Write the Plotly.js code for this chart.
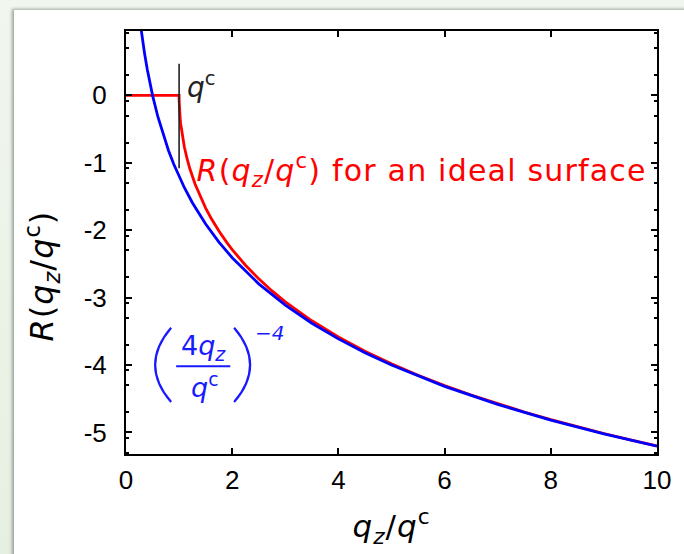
<!DOCTYPE html>
<html>
<head>
<meta charset="utf-8">
<script src="https://cdn.plot.ly/plotly-3.0.1.min.js"></script>
<style>
  html, body { margin: 0; padding: 0; width: 684px; height: 554px; overflow: hidden;
    background: linear-gradient(180deg, #f1f6ef 0%, #e6f0e2 100%); }
  #panel { position: absolute; left: 14px; top: 10px; right: -6px; bottom: -6px;
    background: #ffffff; box-shadow: -2px -1px 3px rgba(60,70,60,0.45); }
  #chart { position: absolute; left: 0; top: 0; width: 684px; height: 554px; }
  /* wider tracking for the curve label and the axis titles */
  #chart g.annotation[data-index="1"] text { letter-spacing: 1.2px; }
  #chart g.annotation[data-index="5"] text,
  #chart g.annotation[data-index="6"] text { letter-spacing: 1px; }
</style>
</head>
<body>
<div id="panel"></div>
<div id="chart"></div>
<script>
// Reflectivity of an ideal surface vs. normalised momentum transfer q_z/q^c (log10 scale)
const idealQ = [0, 1, 1, 1.001, 1.002, 1.005, 1.01, 1.02, 1.03, 1.05, 1.07, 1.1, 1.15, 1.2, 1.3, 1.4, 1.5,
  1.6, 1.75, 1.9, 2, 2.25, 2.5, 2.75, 3, 3.5, 4, 4.5, 5, 5.5, 6, 6.5, 7, 7.5, 8, 8.5, 9, 9.5, 10];
const idealLogR = [0, 0, 0, -0.0777, -0.1099, -0.1736, -0.2455, -0.3469, -0.4245, -0.5471, -0.6463, -0.7706,
  -0.9400, -1.0812, -1.3141, -1.5062, -1.6720, -1.8188, -2.0131, -2.1840, -2.2878, -2.5199, -2.7218,
  -2.9009, -3.0622, -3.3438, -3.5846, -3.7951, -3.9824, -4.1510, -4.3045, -4.4454, -4.5756, -4.6966,
  -4.8097, -4.9158, -5.0157, -5.1102, -5.1998];

// Asymptotic power law (4 q_z / q^c)^-4
const powerQ = [0.28, 0.3, 0.35, 0.4, 0.45, 0.5, 0.6, 0.7, 0.8, 0.9, 1.0, 1.1, 1.25, 1.5, 1.75, 2, 2.5, 3,
  3.5, 4, 4.5, 5, 6, 7, 8, 9, 10];
const powerLogR = [1.0073, 0.8874, 0.6196, 0.3876, 0.1830, 0, -0.3167, -0.5845, -0.8165, -1.0211, -1.2041,
  -1.3697, -1.5918, -1.9085, -2.1763, -2.4082, -2.7959, -3.1126, -3.3804, -3.6124, -3.8170, -4.0000,
  -4.3167, -4.5845, -4.8165, -5.0211, -5.2041];

// Marker for the critical wave vector q^c
const criticalQ = [1, 1];
const criticalMark = [0.47, -1.08];

const xTicks = [0, 2, 4, 6, 8, 10];
const xTickText = ['0', '2', '4', '6', '8', '10'];
const yTicks = [0, -1, -2, -3, -4, -5];
const yTickText = ['0', '-1', '-2', '-3', '-4', '-5'];
const yMinorTicks = [0.92, 0.7, 0.3, -0.08, -0.3, -0.7, -1.08, -1.3, -1.7, -2.08, -2.3, -2.7,
  -3.08, -3.3, -3.7, -4.08, -4.3, -4.7, -5.08, -5.3];

const mathFont = 'DejaVu Sans';
const traces = [
  { x: idealQ, y: idealLogR, mode: 'lines', line: { color: '#ff0000', width: 2.8 }, hoverinfo: 'skip' },
  { x: powerQ, y: powerLogR, mode: 'lines', line: { color: '#0000ff', width: 2.8 }, hoverinfo: 'skip' },
  { x: criticalQ, y: criticalMark, mode: 'lines', line: { color: '#222222', width: 1.6 }, hoverinfo: 'skip' }
];

const layout = {
  width: 684, height: 554,
  margin: { l: 126, r: 27, t: 31, b: 100 },
  paper_bgcolor: 'rgba(0,0,0,0)',
  plot_bgcolor: '#ffffff',
  showlegend: false,
  font: { family: 'Liberation Sans, Arial, sans-serif', color: '#000000' },
  xaxis: {
    range: [0, 10], tickmode: 'array', tickvals: xTicks, ticktext: xTickText,
    ticks: 'inside', ticklen: 6, tickwidth: 2, tickcolor: '#000000',
    showline: true, linewidth: 2, linecolor: '#000000', mirror: 'ticks',
    showgrid: false, zeroline: false, ticklabelstandoff: 2,
    tickfont: { size: 26, family: 'Liberation Sans, Arial, sans-serif', color: '#000000' }
  },
  yaxis: {
    range: [-5.32, 0.955], tickmode: 'array', tickvals: yTicks, ticktext: yTickText,
    ticks: 'inside', ticklen: 6, tickwidth: 2, tickcolor: '#000000',
    minor: { tickmode: 'array', tickvals: yMinorTicks, ticks: 'inside', ticklen: 3, tickwidth: 2, tickcolor: '#000000', showgrid: false },
    showline: true, linewidth: 2, linecolor: '#000000', mirror: 'ticks',
    showgrid: false, zeroline: false, ticklabelstandoff: 12,
    tickfont: { size: 26, family: 'Liberation Sans, Arial, sans-serif', color: '#000000' }
  },
  shapes: [
    // brackets and fraction bar of the power-law label
    { type: 'path', xref: 'x', yref: 'y', path: 'M 0.850,-3.447 Q 0.248,-4.0 0.850,-4.550',
      line: { color: '#1a1aff', width: 2.2 } },
    { type: 'path', xref: 'x', yref: 'y', path: 'M 2.036,-3.447 Q 2.638,-4.0 2.036,-4.550',
      line: { color: '#1a1aff', width: 2.2 } },
    { type: 'line', xref: 'x', yref: 'y', x0: 0.944, x1: 1.964, y0: -4.017, y1: -4.017,
      line: { color: '#1a1aff', width: 2 } }
  ],
  annotations: [
    { xref: 'x', yref: 'y', x: 1.11, y: 0.15, xanchor: 'left', yanchor: 'middle', showarrow: false,
      text: '<i>q</i><sup>c</sup>', font: { family: mathFont, size: 28, color: '#222222' } },
    { xref: 'x', yref: 'y', x: 5.57, y: -1.12, xanchor: 'center', yanchor: 'middle', showarrow: false,
      text: '<i>R</i>(<i>q</i><sub><i>z</i></sub>/<i>q</i><sup>c</sup>) for an ideal surface',
      font: { family: mathFont, size: 30, color: '#ff0000' } },
    { xref: 'x', yref: 'y', x: 1.453, y: -3.74, xanchor: 'center', yanchor: 'middle', showarrow: false,
      text: '4<i>q</i><sub><i>z</i></sub>', font: { family: mathFont, size: 27, color: '#1a1aff' } },
    { xref: 'x', yref: 'y', x: 1.49, y: -4.31, xanchor: 'center', yanchor: 'middle', showarrow: false,
      text: '<i>q</i><sup>c</sup>', font: { family: mathFont, size: 27, color: '#1a1aff' } },
    { xref: 'x', yref: 'y', x: 2.39, y: -3.53, xanchor: 'left', yanchor: 'middle', showarrow: false,
      text: '<i>\u22124</i>', font: { family: mathFont, size: 20, color: '#1a1aff' } },
    { xref: 'paper', yref: 'paper', x: 0.5, y: -0.172, xanchor: 'center', yanchor: 'middle', showarrow: false,
      text: '<i>q</i><sub><i>z</i></sub>/<i>q</i><sup>c</sup>', font: { family: mathFont, size: 31, color: '#000000' } },
    { xref: 'paper', yref: 'paper', x: -0.158, y: 0.42, xanchor: 'center', yanchor: 'middle', showarrow: false,
      textangle: -90,
      text: '<i>R</i>(<i>q</i><sub><i>z</i></sub>/<i>q</i><sup>c</sup>)', font: { family: mathFont, size: 32, color: '#000000' } }
  ]
};

Plotly.newPlot('chart', traces, layout, { staticPlot: true, displayModeBar: false });
</script>
</body>
</html>
